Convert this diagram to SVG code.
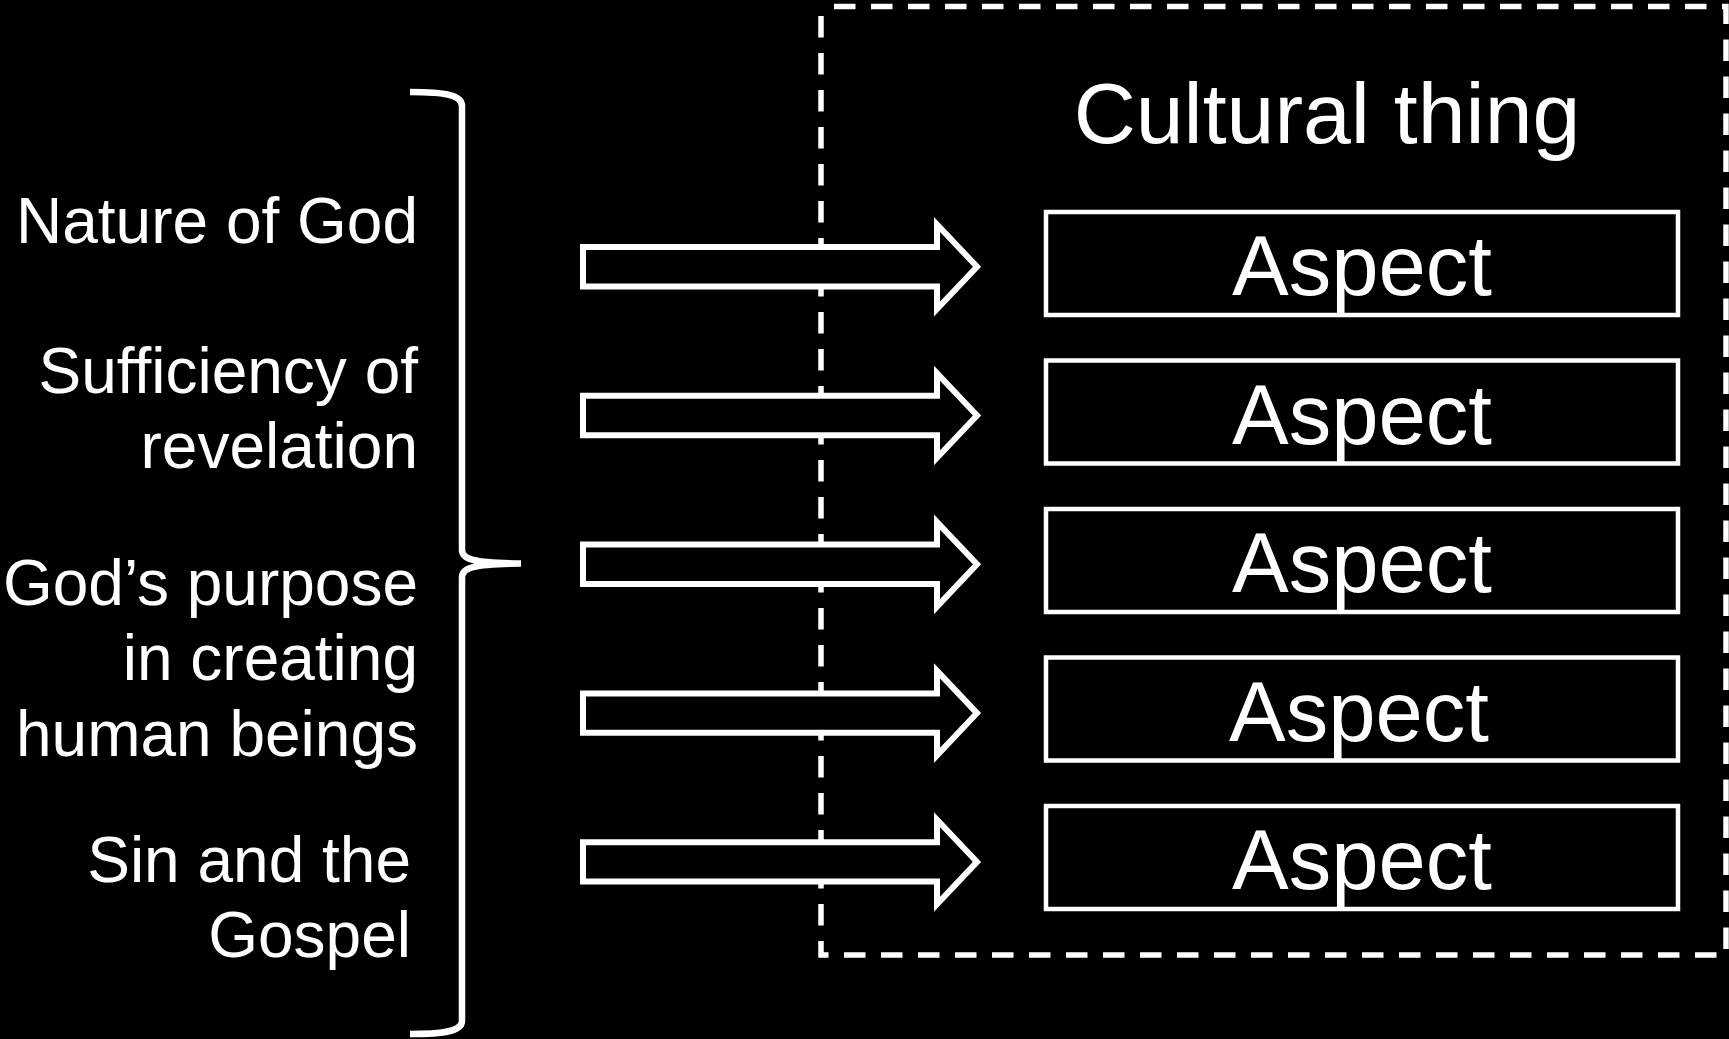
<svg xmlns="http://www.w3.org/2000/svg" width="1729" height="1039" viewBox="0 0 1729 1039">
  <style>
    .lbl { font-family: "Liberation Sans", Arial, sans-serif; font-size: 64px; fill: #fff; text-anchor: end; }
    .asp { font-family: "Liberation Sans", Arial, sans-serif; font-size: 85px; fill: #fff; text-anchor: middle; }
    .title { font-family: "Liberation Sans", Arial, sans-serif; font-size: 86px; fill: #fff; text-anchor: middle; }
    .box { fill: #000; stroke: #fff; stroke-width: 4.5; }
    .arrow { fill: #000; stroke: #fff; stroke-width: 6; stroke-linejoin: miter; stroke-miterlimit: 10; }
    .frame { fill: none; stroke: #fff; stroke-width: 5.5; stroke-dasharray: 21.5 15.5; stroke-dashoffset: 24; }
    .brace { fill: none; stroke: #fff; stroke-width: 6.5; stroke-linecap: butt; }
  </style>
  <rect width="1729" height="1039" fill="#000"/>

  <g id="cultural-thing">
    <rect class="frame" x="821" y="6.5" width="905" height="948.5"/>
    <text class="title" x="1327" y="143">Cultural thing</text>
  </g>

  <g id="labels">
    <g id="label-nature">
      <text class="lbl" x="418" y="243">Nature of God</text>
    </g>
    <g id="label-sufficiency">
      <text class="lbl" x="418" y="393">Sufficiency of</text>
      <text class="lbl" x="418" y="468">revelation</text>
    </g>
    <g id="label-purpose">
      <text class="lbl" x="418" y="605">God’s purpose</text>
      <text class="lbl" x="418" y="680">in creating</text>
      <text class="lbl" x="418" y="756">human beings</text>
    </g>
    <g id="label-sin">
      <text class="lbl" x="411" y="882">Sin and the</text>
      <text class="lbl" x="411" y="957">Gospel</text>
    </g>
  </g>

  <g id="brace">
    <path class="brace" d="M 410 92 C 445 92 462 95 462 106 L 462 550 C 462 559 472 563 521 563.5 C 472 564 462 568 462 577 L 462 1021 C 462 1031 445 1034 410 1034"/>
  </g>

  <g id="connectors">
    <polygon class="arrow" points="583,247 937,247 937,224.5 977,266.7 937,309 937,286.4 583,286.4"/>
    <polygon class="arrow" points="583,395.8 937,395.8 937,373.3 977,415.5 937,457.8 937,435.2 583,435.2"/>
    <polygon class="arrow" points="583,544.6 937,544.6 937,522.1 977,564.3 937,606.6 937,584 583,584"/>
    <polygon class="arrow" points="583,693.4 937,693.4 937,670.9 977,713.1 937,755.4 937,732.8 583,732.8"/>
    <polygon class="arrow" points="583,842.2 937,842.2 937,819.7 977,861.9 937,904.2 937,881.6 583,881.6"/>
  </g>

  <g id="aspect-1">
    <rect class="box" x="1046" y="212" width="632" height="103"/>
    <text class="asp" x="1362" y="295">Aspect</text>
  </g>
  <g id="aspect-2">
    <rect class="box" x="1046" y="360.5" width="632" height="103"/>
    <text class="asp" x="1362" y="443.5">Aspect</text>
  </g>
  <g id="aspect-3">
    <rect class="box" x="1046" y="509" width="632" height="103"/>
    <text class="asp" x="1362" y="592">Aspect</text>
  </g>
  <g id="aspect-4">
    <rect class="box" x="1046" y="657.5" width="632" height="103"/>
    <text class="asp" x="1359" y="740.5">Aspect</text>
  </g>
  <g id="aspect-5">
    <rect class="box" x="1046" y="806" width="632" height="103"/>
    <text class="asp" x="1362" y="889">Aspect</text>
  </g>
</svg>
